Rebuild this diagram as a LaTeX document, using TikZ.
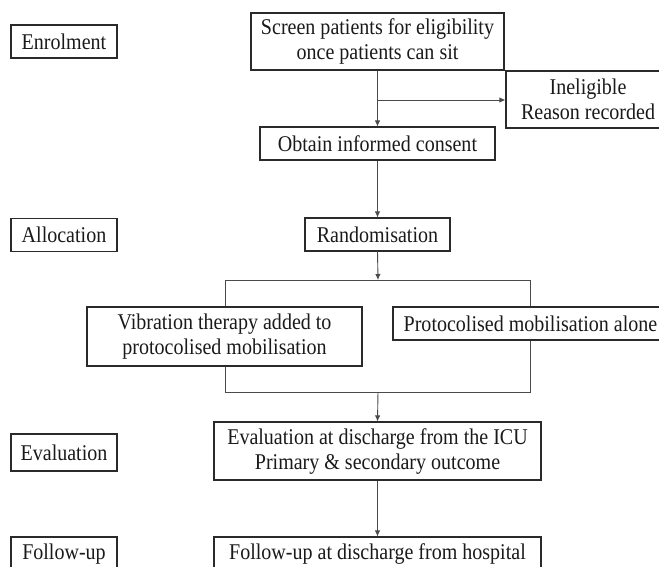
\documentclass[tikz,border=0pt]{standalone}
\usepackage{fontspec}
\setmainfont{Liberation Serif}[FakeStretch=0.89]
\usetikzlibrary{arrows.meta}
\definecolor{boxc}{HTML}{2A2A2A}
\definecolor{linec}{HTML}{4A4A4A}
\definecolor{txtc}{HTML}{1A1A1A}
\tikzset{
  box/.style={draw=boxc, line width=1.1pt, inner sep=0pt, align=center, text=txtc,
    font=\fontsize{22.5}{25}\selectfont},
  conn/.style={draw=linec, line width=0.9pt},
  arr/.style={conn, -{Latex[length=6pt,width=5.5pt]}}
}
\begin{document}
\begin{tikzpicture}[x=1pt,y=-1pt]
\useasboundingbox (0,0) rectangle (659,566);
\fill[white] (0,0) rectangle (659,566);
\clip (0,0) rectangle (659,566);
% phase labels
\node[box, minimum width=106pt, minimum height=33pt] (lenrol) at (64,41.5) {Enrolment};
\node[box, minimum width=106pt, minimum height=33pt] (lalloc) at (64,235) {Allocation};
\node[box, minimum width=106pt, minimum height=37pt] (leval) at (64,452.5) {Evaluation};
\node[box, minimum width=106pt, minimum height=34pt] (lfollow) at (64,554) {Follow-up};
% main flow
\node[box, minimum width=253pt, minimum height=57pt] (screen) at (377.5,41.5) {Screen patients for eligibility\\once patients can sit};
\node[box, minimum width=164pt, minimum height=57pt] (inel) at (588,99.5) {Ineligible\\Reason recorded};
\node[box, minimum width=235pt, minimum height=33pt] (obtain) at (377.5,143.5) {Obtain informed consent};
\node[box, minimum width=145pt, minimum height=33pt] (random) at (377.5,234.5) {Randomisation};
\node[box, minimum width=275pt, minimum height=59pt] (vib) at (224.5,336.5) {Vibration therapy added to\\protocolised mobilisation};
\node[box, minimum width=275pt, minimum height=33pt] (prot) at (530.5,323.5) {Protocolised mobilisation alone};
\node[box, minimum width=327pt, minimum height=58pt] (eval) at (377.5,451) {Evaluation at discharge from the ICU\\Primary \& secondary outcome};
\node[box, minimum width=327pt, minimum height=34pt] (follow) at (377.5,554) {Follow-up at discharge from hospital};
% coordinates
\coordinate (b1) at (378,100);
\coordinate (tm) at (378,280);
\coordinate (tl) at (225,280);
\coordinate (tr) at (530,280);
\coordinate (bl) at (225,392);
\coordinate (br) at (530,392);
\coordinate (bm) at (378,392);
% connectors
\draw[arr] (screen.south) -- (obtain.north);
\draw[arr] (b1) -- (inel.west |- b1);
\draw[arr] (obtain.south) -- (random.north);
\draw[arr] (random.south) -- (tm);
\draw[conn] (tl |- vib.north) -- (tl) -- (tr) -- (tr |- prot.north);
\draw[conn] (bl |- vib.south) -- (bl) -- (br) -- (br |- prot.south);
\draw[arr] (bm) -- (eval.north);
\draw[arr] (eval.south) -- (follow.north);
\end{tikzpicture}
\end{document}
